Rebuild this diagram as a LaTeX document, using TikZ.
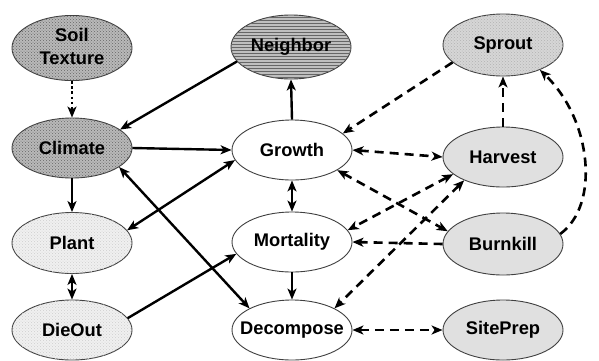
\documentclass[tikz,border=0pt]{standalone}
\usepackage{fontspec}
\setmainfont{Liberation Sans}
\usetikzlibrary{shapes.geometric,arrows.meta,patterns}
\newcommand\nlab[1]{\makebox[0pt]{#1}}
\begin{document}
\begin{tikzpicture}[x=1pt,y=-1pt,
  every node/.style={font=\fontsize{18.3}{23}\selectfont\bfseries},
  ell/.style={ellipse, draw=black!75, line width=0.9pt, minimum width=120pt, minimum height=61pt, inner sep=0pt},
  darkdots/.style={ell, fill=gray!55, postaction={pattern=crosshatch dots, pattern color=black!60}},
  hlines/.style={ell, fill=gray!50, postaction={pattern=horizontal lines, pattern color=black!60}},
  sproutfill/.style={ell, fill=gray!32, postaction={pattern=crosshatch dots, pattern color=gray!60}},
  lightdots/.style={ell, fill=gray!12, postaction={pattern=crosshatch dots, pattern color=gray!38}},
  lightgray/.style={ell, fill=gray!24},
  plain/.style={ell, fill=white},
  sol/.style={line width=2.4pt, black},
  dsh/.style={line width=2.6pt, black, dash pattern=on 9pt off 6pt},
  dtt/.style={line width=2.6pt, black, dash pattern=on 2.6pt off 2.6pt},
  ar/.style={-{Stealth[length=11pt,width=9pt,inset=3pt]}},
  dar/.style={{Stealth[length=11pt,width=9pt,inset=3pt]}-{Stealth[length=11pt,width=9pt,inset=3pt]}}
]
\useasboundingbox (0,0) rectangle (599,360);
\fill[white] (0,0) rectangle (599,360);

\node[darkdots, minimum height=64pt] (soil) at (72,48) {\nlab{\begin{tabular}{@{}c@{}}Soil\\Texture\end{tabular}}};
\node[darkdots, minimum height=60pt] (clim) at (72,148) {\nlab{Climate}};
\node[lightdots] (plant) at (72,243) {\nlab{Plant}};
\node[lightdots, minimum height=60pt] (die) at (72,330) {\nlab{DieOut}};

\node[hlines, minimum height=64pt] (neigh) at (291,47) {\nlab{Neighbor}};
\node[plain, minimum height=60pt] (grow) at (292,150) {\nlab{Growth}};
\node[plain, minimum height=60pt] (mort) at (292,242) {\nlab{Mortality}};
\node[plain, minimum height=60pt] (dec) at (292,330) {\nlab{Decompose}};

\node[sproutfill, minimum height=62pt] (sprout) at (503,45) {\nlab{Sprout}};
\node[lightgray, minimum height=60pt] (harv) at (503,157) {\nlab{Harvest}};
\node[lightgray, minimum height=62pt] (burn) at (503,244) {\nlab{Burnkill}};
\node[lightgray, minimum height=60pt] (site) at (503,330) {\nlab{SitePrep}};

% solid
\draw[dtt, ar] (soil.south) -- (clim.north);
\draw[sol, ar] (neigh.195) -- (clim.21);
\draw[sol, ar] (grow.north) -- (neigh.south);
\draw[sol, ar] (clim.east) -- (grow.west);
\draw[sol, ar] (clim.south) -- (plant.north);
\draw[sol, dar] (plant.south) -- (die.north);
\draw[sol, dar] (plant.13) -- (grow.190);
\draw[sol, dar] (clim.338) -- (dec.153);
\draw[sol, ar] (die.12) -- (mort.192);
\draw[sol, dar] (grow.south) -- (mort.north);
\draw[sol, ar] (mort.south) -- (dec.north);

% dashed
\draw[dsh, ar] (sprout.199) -- (grow.18);
\draw[dsh, dar] (grow.east) -- (harv.west);
\draw[dsh, dar] (grow.336) -- (burn.167);
\draw[dsh, dar] (harv.199) -- (mort.12);
\draw[dsh, ar] (burn.west) -- (mort.east);
\draw[dsh, dar] (harv.211) -- (dec.27);
\draw[dsh, ar] (harv.north) -- (sprout.south);
\draw[dsh, ar] (burn.10) .. controls (600,205) and (592,120) .. (sprout.326);
\draw[dsh, dar] (dec.east) -- (site.west);
\end{tikzpicture}
\end{document}
